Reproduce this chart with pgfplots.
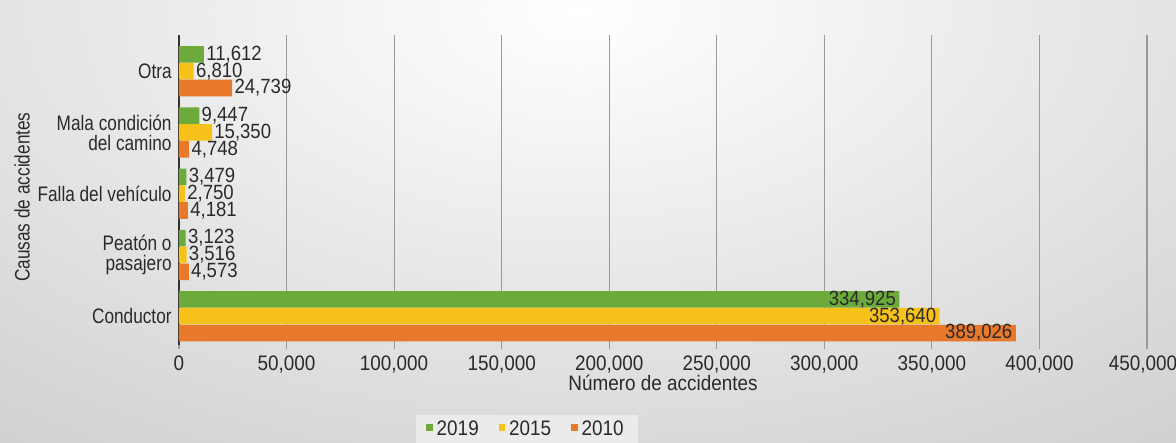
\documentclass[border=0pt]{standalone}
\usepackage{pgfplots}
\pgfplotsset{compat=1.18}
\usepackage{pgfplotstable}
\usepackage{fontspec}
\setmainfont{Liberation Sans}[FakeStretch=0.82]
\newfontfamily\numfont{Liberation Sans}[FakeStretch=0.9]
\definecolor{cg}{HTML}{6DAA3C}
\definecolor{cy}{HTML}{F6C21A}
\definecolor{co}{HTML}{E8782A}
\definecolor{txt}{HTML}{2A2A2A}
\pgfplotstableread{
y a19 l19 a15 l15 a10 l10
0 334925 \llap{334,925\kern3pt} 353640 \llap{353,640\kern3pt} 389026 \llap{389,026\kern3pt}
1 3123 3,123 3516 3,516 4573 4,573
2 3479 3,479 2750 2,750 4181 4,181
3 9447 9,447 15350 15,350 4748 4,748
4 11612 11,612 6810 6,810 24739 24,739
}\datatab
\pgfplotsset{lbl/.style={
  point meta=explicit symbolic,
  nodes near coords,
  every node near coord/.append style={anchor=west, inner sep=1pt, font=\numfont\fontsize{10.3}{12}\selectfont, text=txt}}}
\begin{document}
\begin{tikzpicture}
\begin{scope}
\clip (0,0) rectangle (588pt,221.5pt);
\shade[inner color=white, outer color=black!22] (-300pt,-110pt) rectangle (880pt,540pt);
\end{scope}
\begin{axis}[
  at={(89.5pt,49pt)}, anchor=south west,
  scale only axis, width=484pt, height=155pt,
  xbar, bar width=0.27,
  xmin=0, xmax=450000, ymin=-0.47, ymax=4.59,
  axis lines*=left, axis line style={-},
  x axis line style={draw=none},
  y axis line style={draw=black!80, line width=1.2pt},
  scaled x ticks=false,
  xtick={0,50000,100000,150000,200000,250000,300000,350000,400000,450000},
  xticklabels={0,{50,000},{100,000},{150,000},{200,000},{250,000},{300,000},{350,000},{400,000},{\kern-4pt450,000}},
  xmajorgrids, grid style={draw=black!40, line width=0.6pt},
  xtick align=outside, major tick length=2pt,
  xtick style={draw=black!40, line width=0.6pt},
  ytick={0,1,2,3,4},
  yticklabels={Conductor, {Peatón o\\pasajero}, Falla del vehículo, {Mala condición\\del camino}, Otra},
  ytick style={draw=none},
  yticklabel style={align=right, font=\fontsize{10.5}{10}\selectfont, text=txt, inner sep=1.5pt},
  xticklabel style={font=\numfont\fontsize{10.5}{12}\selectfont, text=txt},
  xlabel={Número de accidentes},
  xlabel style={at={(axis description cs:0.5,-0.1226)}, anchor=center, font=\numfont\fontsize{10.5}{12}\selectfont, text=txt},
  ylabel={Causas de accidentes},
  ylabel style={at={(axis description cs:-0.162,0.477)}, anchor=center, font=\fontsize{10.5}{12}\selectfont, text=txt},
  legend style={at={(axis description cs:0.3595,-0.274)}, anchor=center, draw=none, fill=white!92!black, legend columns=3, font=\numfont\fontsize{10.5}{12}\selectfont, text=txt, inner xsep=5pt, inner ysep=1pt, /tikz/every even column/.append style={column sep=8pt}},
  legend image code/.code={\fill[#1] (0pt,-0.3pt) rectangle (3.2pt,2.8pt);},
  clip=false,
]
\addplot[fill=cg, draw=none, bar shift=0.275, lbl] table[x=a19, y=y, meta=l19] {\datatab};
\addlegendentry{2019}
\addplot[fill=cy, draw=none, bar shift=0, lbl] table[x=a15, y=y, meta=l15] {\datatab};
\addlegendentry{2015}
\addplot[fill=co, draw=none, bar shift=-0.275, lbl] table[x=a10, y=y, meta=l10] {\datatab};
\addlegendentry{2010}
\end{axis}
\pgfresetboundingbox
\useasboundingbox (0,0) rectangle (588pt,221.5pt);
\end{tikzpicture}
\end{document}
